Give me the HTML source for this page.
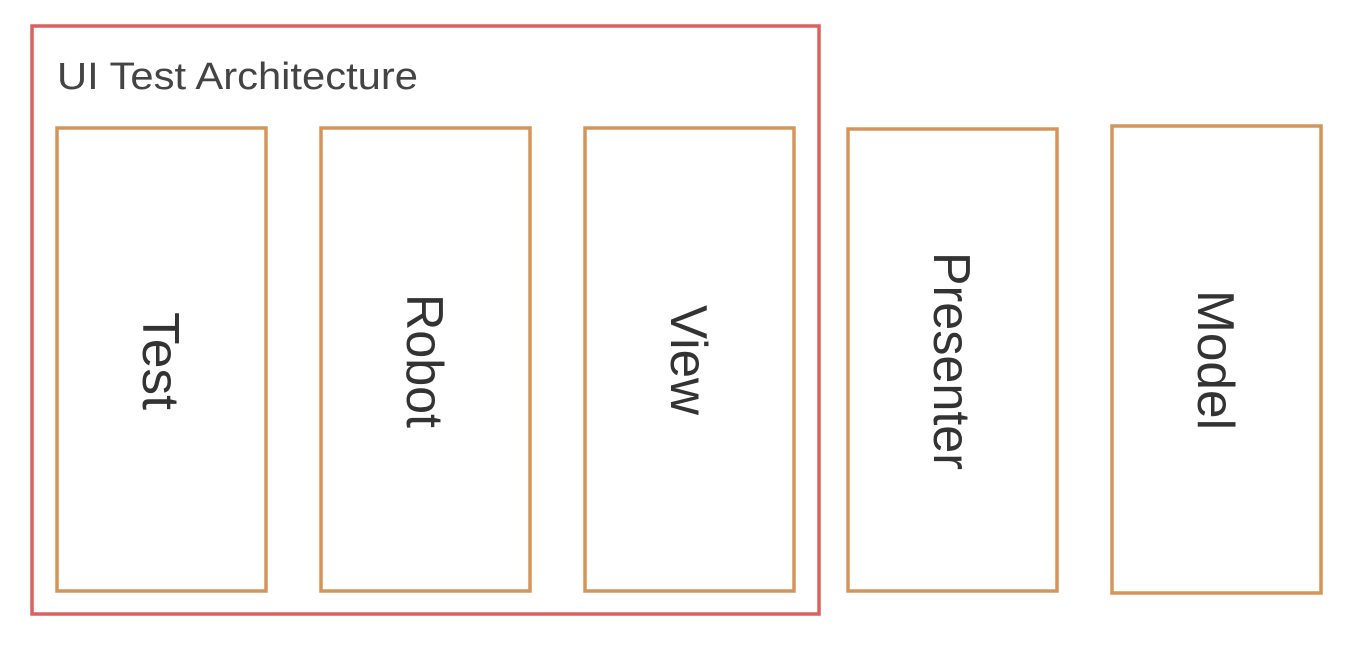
<!DOCTYPE html>
<html><head><meta charset="utf-8"><style>html,body{margin:0;padding:0;background:#fff}svg{display:block}</style></head>
<body>
<svg width="1364" height="654" viewBox="0 0 1364 654" font-family="Liberation Sans, sans-serif">
<rect x="32" y="26" width="787" height="588" fill="none" stroke="#d9625f" stroke-width="3.5"/>
<text x="57" y="89" font-size="38" fill="#444" textLength="361" lengthAdjust="spacingAndGlyphs">UI Test Architecture</text>
<g fill="none" stroke="#d4955a" stroke-width="3.5">
<rect x="57" y="128" width="209" height="463"/>
<rect x="321" y="128" width="209" height="463"/>
<rect x="585" y="128" width="209" height="463"/>
<rect x="848" y="129" width="209" height="462"/>
<rect x="1112" y="126" width="209" height="467"/>
</g>
<g font-size="52" fill="#333" text-anchor="middle">
<text transform="translate(143,361) rotate(90)" textLength="98" lengthAdjust="spacingAndGlyphs">Test</text>
<text transform="translate(407,361) rotate(90)" textLength="134" lengthAdjust="spacingAndGlyphs">Robot</text>
<text transform="translate(671,360) rotate(90)" textLength="110" lengthAdjust="spacingAndGlyphs">View</text>
<text transform="translate(934,361) rotate(90)" textLength="218" lengthAdjust="spacingAndGlyphs">Presenter</text>
<text transform="translate(1198,360) rotate(90)" textLength="140" lengthAdjust="spacingAndGlyphs">Model</text>
</g>
</svg>
</body></html>
